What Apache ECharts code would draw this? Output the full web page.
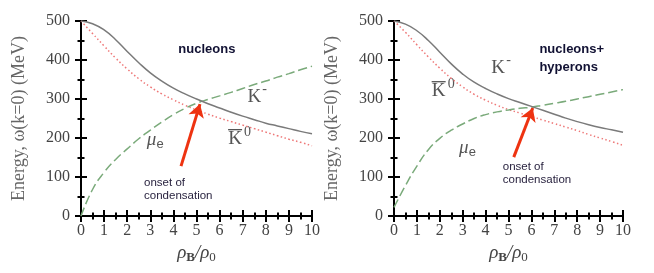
<!DOCTYPE html>
<html><head><meta charset="utf-8">
<script src="https://cdn.jsdelivr.net/npm/echarts@6/dist/echarts.min.js"></script>
<style>html,body{margin:0;padding:0;background:#fff}#c{width:654px;height:273px}</style>
</head><body><div id="c"></div>
<script>
// density grid rho_B/rho_0
var xs = [0,0.5,1,1.5,2,2.5,3,3.5,4,4.5,5,5.5,6,6.5,7,7.5,8,8.5,9,9.5,10];
// panel 1: nucleons
var kMinusN  = [500,493,477,452,422,393,367,346,328,313,300,288,277,266,256,247,238,231,224,217,211];
var k0barN   = [500,468,436,405,377,352,331,313,298,284,272,261,251,242,233,224,215,206,197,189,180];
var muEN     = [0,68,112,145,172,198,220,241,260,276,289,299,308,317,327,337,346,356,365,375,384];
// panel 2: nucleons + hyperons
var kMinusH  = [500,492,475,450,420,390,364,343,327,313,301,291,281,271,261,251,242,234,227,221,215];
var k0barH   = [500,471,439,408,379,353,331,312,297,284,273,264,255,246,237,228,219,209,200,191,181];
var muEH     = [22,78,128,170,199,220,236,250,260,267,272,276,279,284,289,294,300,306,312,318,324];
var xTicks = ['0','1','2','3','4','5','6','7','8','9','10'];
var yTicks = ['0','100','200','300','400','500'];
var panelTitles = ['nucleons', 'nucleons+\nhyperons'];
var onsetText = 'onset of\ncondensation';
// annotation anchors in data coordinates [x, y]
var arrows = [[[4.33,128],[5.15,287]], [[5.23,151],[6.06,277]]];

function pairs(ys){ return xs.map(function(x,i){return [x, ys[i]];}); }

var axisLineS = {show:true, lineStyle:{color:'#000', width:2}};
var serif = '"Liberation Serif","DejaVu Serif",serif';
var sans = '"Liberation Sans",Arial,sans-serif';
var tickS = {inside:true, length:6, lineStyle:{color:'#000', width:2}};
var minorS = {show:true, splitNumber:2, length:3.5, lineStyle:{color:'#000', width:2}};

function xAxes(gi){
  return [{
    type:'value', gridIndex:gi, min:0, max:10, interval:1,
    axisLine:axisLineS, axisTick:tickS, minorTick:minorS,
    splitLine:{show:false},
    axisLabel:{fontFamily:serif, fontSize:16, color:'#444', margin:7,
      formatter:function(v){return xTicks[Math.round(v)];}},
    name:'{r|ρ}{b|B}{r|/ρ}{s|0}', nameLocation:'middle', nameGap:23,
    nameTextStyle:{rich:{
      r:{fontFamily:serif, fontStyle:'italic', fontSize:19, color:'#444'},
      b:{fontFamily:serif, fontWeight:'bold', fontSize:13, color:'#444', padding:[8,0,0,0]},
      s:{fontFamily:serif, fontSize:13, color:'#444', padding:[8,0,0,0]}
    }}
  },{
    type:'value', gridIndex:gi, min:0, max:10, interval:1, position:'top',
    axisLine:axisLineS, axisTick:tickS, minorTick:minorS,
    splitLine:{show:false}, axisLabel:{show:false}
  }];
}
function yAxes(gi){
  return [{
    type:'value', gridIndex:gi, min:0, max:500, interval:100,
    axisLine:axisLineS, axisTick:tickS, minorTick:minorS,
    splitLine:{show:false},
    axisLabel:{fontFamily:serif, fontSize:16, color:'#444', margin:11,
      formatter:function(v){return yTicks[Math.round(v/100)];}},
    name:'Energy, ω(k=0) (MeV)', nameLocation:'middle', nameGap:53, nameRotate:90,
    nameTextStyle:{fontFamily:serif, fontSize:18, color:'#666'}
  },{
    type:'value', gridIndex:gi, min:0, max:500, interval:100, position:'right',
    axisLine:axisLineS, axisTick:tickS, minorTick:minorS,
    splitLine:{show:false}, axisLabel:{show:false}
  }];
}

function curves(gi, kM, k0, mu, arrow){
  var xi = gi*2, yi = gi*2;
  return [
    {type:'line', xAxisIndex:xi, yAxisIndex:yi, data:pairs(kM), smooth:0.5, showSymbol:false,
     lineStyle:{color:'#7a7a7a', width:1.5}, z:3},
    {type:'line', xAxisIndex:xi, yAxisIndex:yi, data:pairs(k0), smooth:0.5, showSymbol:false,
     lineStyle:{color:'#ee7777', width:1.5, type:[1.5,2.5]}, z:2},
    {type:'line', xAxisIndex:xi, yAxisIndex:yi, data:pairs(mu), smooth:0.5, showSymbol:false,
     lineStyle:{color:'#7aaa7a', width:1.5, type:[9,4]}, z:2,
     markLine:{silent:true, symbol:['none','arrow'], symbolSize:[12,13],
       lineStyle:{color:'#ee3311', width:3, type:'solid'}, label:{show:false},
       data:[[{coord:arrow[0]},{coord:arrow[1]}]]}}
  ];
}

var chart = echarts.init(document.getElementById('c'));
chart.setOption({
  animation:false,
  grid:[{left:81, top:21, width:231, height:195}, {left:394, top:21, width:229, height:195}],
  xAxis: xAxes(0).concat(xAxes(1)),
  yAxis: yAxes(0).concat(yAxes(1)),
  series: curves(0, kMinusN, k0barN, muEN, arrows[0]).concat(curves(1, kMinusH, k0barH, muEH, arrows[1]))
});

// text annotations placed at data coordinates
var labelsData = [
  {g:0, at:[5.45,428], kind:'title', text:panelTitles[0]},
  {g:0, at:[7.5,305], kind:'kminus'},
  {g:0, at:[6.67,197], kind:'k0bar'},
  {g:0, at:[3.05,194], kind:'mue'},
  {g:0, at:[2.73,103], kind:'onset'},
  {g:1, at:[6.35,403], kind:'title', text:panelTitles[1]},
  {g:1, at:[4.55,379], kind:'kminus'},
  {g:1, at:[1.95,320], kind:'k0bar'},
  {g:1, at:[3.05,174], kind:'mue'},
  {g:1, at:[4.75,143], kind:'onset'}
];
var gfx = [];
labelsData.forEach(function(l){
  var p = chart.convertToPixel({xAxisIndex:l.g*2, yAxisIndex:l.g*2}, l.at);
  if(l.kind==='title'){
    gfx.push({type:'text', x:p[0], y:p[1], style:{text:l.text, font:'bold 13px '+sans, fill:'#111133',
      textAlign:l.g===0?'center':'left', textVerticalAlign:'middle', lineHeight:18}});
  } else if(l.kind==='onset'){
    gfx.push({type:'text', x:p[0], y:p[1], style:{text:onsetText, font:'11.5px '+sans, fill:'#2a2440',
      textAlign:'left', textVerticalAlign:'top', lineHeight:13}});
  } else if(l.kind==='kminus'){
    gfx.push({type:'text', x:p[0], y:p[1], style:{text:'K', font:'19px '+serif, fill:'#555',
      textAlign:'center', textVerticalAlign:'middle'}});
    gfx.push({type:'text', x:p[0]+8, y:p[1]-8, style:{text:'-', font:'14px '+serif, fill:'#555',
      textAlign:'left', textVerticalAlign:'middle'}});
  } else if(l.kind==='k0bar'){
    gfx.push({type:'text', x:p[0], y:p[1], style:{text:'K', font:'19px '+serif, fill:'#555',
      textAlign:'center', textVerticalAlign:'middle'}});
    gfx.push({type:'line', shape:{x1:p[0]-7, y1:p[1]-9.5, x2:p[0]+7, y2:p[1]-9.5}, style:{stroke:'#555', lineWidth:1.3}});
    gfx.push({type:'text', x:p[0]+9, y:p[1]-7, style:{text:'0', font:'14px '+serif, fill:'#555',
      textAlign:'left', textVerticalAlign:'middle'}});
  } else if(l.kind==='mue'){
    gfx.push({type:'text', x:p[0], y:p[1], style:{text:'μ', font:'italic 19px '+serif, fill:'#555',
      textAlign:'center', textVerticalAlign:'middle'}});
    gfx.push({type:'text', x:p[0]+5, y:p[1]+4, style:{text:'e', font:'13px '+sans, fill:'#555',
      textAlign:'left', textVerticalAlign:'middle'}});
  }
});
chart.setOption({graphic:gfx});
</script></body></html>
